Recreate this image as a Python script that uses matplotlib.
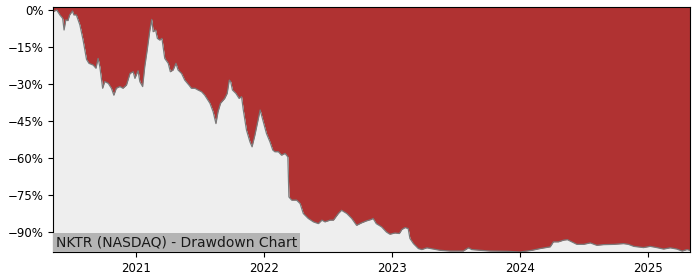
import numpy as np
import pandas as pd
import matplotlib
matplotlib.use("Agg")
import matplotlib.pyplot as plt
import matplotlib.dates as mdates
from matplotlib.ticker import MultipleLocator, PercentFormatter

# drawdown values (percent below running peak)
dates = [
    "2020-05-11", "2020-05-21", "2020-05-30", "2020-06-07", "2020-06-11", "2020-06-16",
    "2020-06-22", "2020-06-27", "2020-07-05", "2020-07-09", "2020-07-16", "2020-07-26",
    "2020-08-04", "2020-08-14", "2020-08-21", "2020-09-02", "2020-09-10", "2020-09-16",
    "2020-09-21", "2020-09-26", "2020-09-29", "2020-10-05", "2020-10-15", "2020-10-24",
    "2020-10-31", "2020-11-07", "2020-11-17", "2020-11-26", "2020-12-06", "2020-12-16",
    "2020-12-25", "2020-12-30", "2021-01-08", "2021-01-13", "2021-01-21", "2021-01-27",
    "2021-02-03", "2021-02-10", "2021-02-16", "2021-02-20", "2021-02-27", "2021-03-04",
    "2021-03-11", "2021-03-17", "2021-03-25", "2021-04-04", "2021-04-10", "2021-04-18",
    "2021-04-26", "2021-05-02", "2021-05-12", "2021-05-21", "2021-06-02", "2021-06-09",
    "2021-06-19", "2021-06-28", "2021-07-08", "2021-07-17", "2021-08-01", "2021-08-10",
    "2021-08-18", "2021-08-24", "2021-08-31", "2021-09-12", "2021-09-19", "2021-09-25",
    "2021-09-29", "2021-10-04", "2021-10-14", "2021-10-23", "2021-10-30", "2021-11-04",
    "2021-11-13", "2021-11-23", "2021-11-29", "2021-12-07", "2021-12-16", "2021-12-22",
    "2021-12-31", "2022-01-09", "2022-01-19", "2022-01-27", "2022-02-02", "2022-02-12",
    "2022-02-21", "2022-03-03", "2022-03-11", "2022-03-14", "2022-03-22", "2022-04-05",
    "2022-04-15", "2022-04-24", "2022-05-08", "2022-05-23", "2022-06-06", "2022-06-16",
    "2022-06-25", "2022-07-09", "2022-07-19", "2022-08-02", "2022-08-11", "2022-08-26",
    "2022-09-09", "2022-09-23", "2022-10-07", "2022-10-21", "2022-11-04", "2022-11-09",
    "2022-11-18", "2022-12-03", "2022-12-17", "2022-12-27", "2023-01-10", "2023-01-23",
    "2023-01-30", "2023-02-08", "2023-02-17", "2023-02-22", "2023-03-04", "2023-03-18",
    "2023-03-28", "2023-04-11", "2023-04-30", "2023-05-19", "2023-06-17", "2023-07-24",
    "2023-08-08", "2023-08-17", "2023-09-10", "2023-10-09", "2023-11-25", "2024-01-02",
    "2024-02-05", "2024-02-28", "2024-03-28", "2024-04-06", "2024-04-20", "2024-05-05",
    "2024-05-16", "2024-05-29", "2024-06-12", "2024-07-01", "2024-07-20", "2024-08-08",
    "2024-08-27", "2024-09-25", "2024-10-23", "2024-11-06", "2024-11-21", "2024-12-19",
    "2025-01-07", "2025-01-26", "2025-02-14", "2025-03-05", "2025-03-24", "2025-04-08",
    "2025-04-22", "2025-04-29",
]
drawdown = [
    -0.7, 0.0, -2.0, -3.4, -8.1, -4.0,
    -4.3, -2.0, -0.4, -2.0, -2.0, -6.0,
    -12.0, -20.0, -21.6, -22.3, -23.6, -19.6,
    -23.0, -28.4, -31.7, -29.0, -29.7, -31.7,
    -34.5, -31.7, -31.0, -31.7, -30.4, -25.7,
    -25.0, -27.7, -24.6, -29.0, -31.0, -23.0,
    -16.2, -8.8, -3.8, -8.8, -8.1, -11.5,
    -12.2, -11.5, -19.6, -21.6, -25.0, -24.3,
    -21.6, -24.3, -25.7, -28.4, -30.4, -31.7,
    -31.7, -32.4, -33.1, -34.5, -37.8, -41.2,
    -46.0, -41.2, -37.8, -35.8, -33.8, -28.4,
    -29.0, -32.4, -33.8, -35.8, -35.1, -40.5,
    -48.6, -53.4, -55.4, -50.7, -44.6, -40.5,
    -45.3, -50.0, -53.4, -56.7, -57.4, -57.4,
    -58.8, -58.1, -59.5, -75.7, -77.0, -77.0,
    -78.4, -82.4, -84.4, -85.8, -86.5, -85.1,
    -85.8, -85.1, -85.1, -82.4, -81.1, -82.4,
    -84.4, -87.2, -86.2, -85.4, -84.8, -84.4,
    -86.5, -87.8, -89.9, -90.8, -90.3, -90.5,
    -88.9, -88.1, -88.5, -92.5, -94.6, -96.6,
    -97.0, -96.3, -96.8, -97.3, -97.6, -97.6,
    -96.3, -97.0, -97.3, -97.6, -97.7, -98.0,
    -97.3, -96.6, -95.9, -93.9, -93.9, -93.2,
    -93.0, -93.9, -94.9, -94.9, -94.3, -95.3,
    -95.0, -94.9, -94.6, -94.9, -95.7, -96.2,
    -95.7, -96.2, -96.8, -96.3, -96.8, -97.6,
    -97.0, -97.3,
]
label = "NKTR (NASDAQ) - Drawdown Chart"

x = pd.to_datetime(dates)
dd = np.array(drawdown)
ymin, ymax = -98.1, 1.1

fig = plt.figure(figsize=(7, 2.8), dpi=100)
ax = fig.add_axes([0.076, 0.099, 0.909, 0.875])

ax.fill_between(x, dd, ymax, color="#b03232", linewidth=0)
ax.fill_between(x, ymin, dd, color="#eeeeee", linewidth=0)
ax.plot(x, dd, color="#7a7a7a", linewidth=0.9)

ax.set_xlim(x[0], x[-1])
ax.set_ylim(ymin, ymax)
ax.yaxis.set_major_locator(MultipleLocator(15))
ax.yaxis.set_major_formatter(PercentFormatter(xmax=100, decimals=0))
ax.xaxis.set_major_locator(mdates.YearLocator())
ax.xaxis.set_major_formatter(mdates.DateFormatter("%Y"))
ax.tick_params(labelsize=8.5, length=3.5)

ax.annotate(label, xy=(0, 0), xycoords="axes fraction", xytext=(2, 2),
            textcoords="offset points", ha="left", va="bottom", fontsize=10,
            color="#1a1a1a",
            bbox=dict(facecolor="#b4b4b4", edgecolor="none", pad=2))

fig.savefig("out.png", dpi=100)
